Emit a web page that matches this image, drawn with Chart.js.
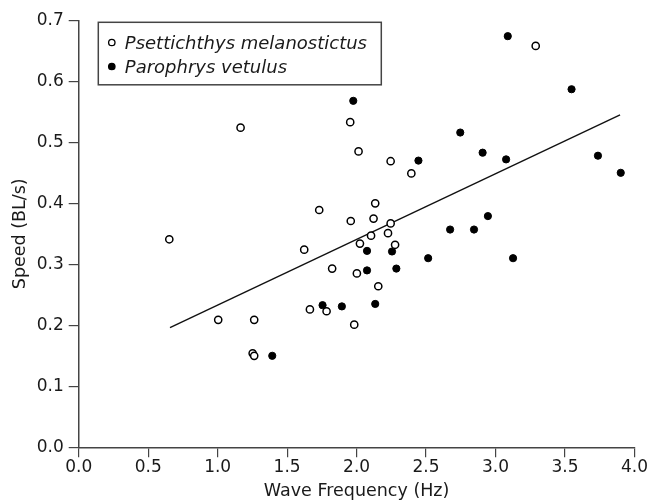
<!DOCTYPE html>
<html>
<head>
<meta charset="utf-8">
<script src="https://cdn.jsdelivr.net/npm/chart.js@4/dist/chart.umd.min.js"></script>
<style>
  html, body { margin: 0; padding: 0; background: #fff; }
  #wrap { width: 651px; height: 502px; }
</style>
</head>
<body>
<div id="wrap"><canvas id="c" width="651" height="502"></canvas></div>
<script>
// ---- data ----
const seriesNames = ['Psettichthys melanostictus', 'Parophrys vetulus'];

const psettFreq  = [0.652, 1.004, 1.165, 1.252, 1.263, 1.263, 1.623, 1.664, 1.731, 1.784, 1.824, 1.954, 1.958, 1.983, 2.002, 2.014, 2.024, 2.104, 2.122, 2.134, 2.156, 2.226, 2.245, 2.245, 2.277, 2.394, 3.289];
const psettSpeed = [0.341, 0.209, 0.524, 0.154, 0.150, 0.209, 0.324, 0.226, 0.389, 0.223, 0.293, 0.533, 0.371, 0.201, 0.285, 0.485, 0.334, 0.347, 0.375, 0.400, 0.264, 0.351, 0.469, 0.367, 0.332, 0.449, 0.658];

const paroFreq  = [1.393, 1.755, 1.894, 1.976, 2.075, 2.075, 2.134, 2.255, 2.286, 2.445, 2.515, 2.673, 2.746, 2.845, 2.907, 2.945, 3.076, 3.088, 3.126, 3.547, 3.737, 3.901];
const paroSpeed = [0.150, 0.233, 0.231, 0.568, 0.322, 0.290, 0.235, 0.321, 0.293, 0.470, 0.310, 0.357, 0.516, 0.357, 0.483, 0.379, 0.472, 0.674, 0.310, 0.587, 0.478, 0.450];

const fitFreq  = [0.657, 3.896];
const fitSpeed = [0.196, 0.545];

const xTickLabels = ['0.0', '0.5', '1.0', '1.5', '2.0', '2.5', '3.0', '3.5', '4.0'];
const yTickLabels = ['0.0', '0.1', '0.2', '0.3', '0.4', '0.5', '0.6', '0.7'];
const xTitle = 'Wave Frequency (Hz)';
const yTitle = 'Speed (BL/s)';

// ---- build ----
const toPts = (xs, ys) => xs.map((x, i) => ({ x: x, y: ys[i] }));
const FONT = 'DejaVu Sans';
const INK = '#1a1a1a';
const AXIS = '#444';

const legendBox = {
  id: 'legendBox',
  afterDraw(chart) {
    const ctx = chart.ctx;
    const a = chart.chartArea;
    const L = a.left + 19.6, T = a.top + 2, W = 283, H = 62.5;
    ctx.save();
    ctx.strokeStyle = '#444';
    ctx.lineWidth = 1.5;
    ctx.fillStyle = '#fff';
    ctx.fillRect(L, T, W, H);
    ctx.strokeRect(L, T, W, H);
    ctx.font = 'italic 18px "' + FONT + '"';
    ctx.textBaseline = 'alphabetic';
    ctx.textAlign = 'left';
    chart.data.datasets.slice(0, 2).forEach((ds, i) => {
      const cy = T + 20.2 + i * 24;
      ctx.beginPath();
      ctx.arc(L + 13.5, cy, 3.2, 0, Math.PI * 2);
      ctx.fillStyle = ds.backgroundColor;
      ctx.fill();
      ctx.lineWidth = 1.3;
      ctx.strokeStyle = '#000';
      ctx.stroke();
      ctx.fillStyle = INK;
      ctx.fillText(ds.label, L + 26.5, cy + 6.5);
    });
    ctx.restore();
  }
};

new Chart(document.getElementById('c'), {
  type: 'scatter',
  data: {
    datasets: [
      {
        label: seriesNames[0],
        data: toPts(psettFreq, psettSpeed),
        backgroundColor: '#ffffff',
        borderColor: '#000000',
        borderWidth: 1.5,
        pointRadius: 3.6,
        pointHoverRadius: 3.6
      },
      {
        label: seriesNames[1],
        data: toPts(paroFreq, paroSpeed),
        backgroundColor: '#000000',
        borderColor: '#000000',
        borderWidth: 1,
        pointRadius: 3.6,
        pointHoverRadius: 3.6
      },
      {
        label: 'fit',
        type: 'line',
        data: toPts(fitFreq, fitSpeed),
        borderColor: '#111',
        borderWidth: 1.4,
        pointRadius: 0,
        fill: false,
        order: 5
      }
    ]
  },
  options: {
    responsive: false,
    animation: false,
    devicePixelRatio: 1,
    layout: { padding: { left: 6, right: 16.5, top: 20.3, bottom: 0 } },
    plugins: {
      legend: { display: false },
      tooltip: { enabled: false }
    },
    scales: {
      x: {
        type: 'linear',
        min: 0, max: 4,
        afterFit(s) { s.height = 54.7; },
        ticks: {
          stepSize: 0.5,
          padding: 0,
          color: INK,
          font: { family: FONT, size: 17 },
          maxRotation: 0,
          callback: (v, i) => xTickLabels[i]
        },
        grid: { drawOnChartArea: false, drawTicks: true, tickLength: 10, color: AXIS, lineWidth: 1.2 },
        border: { display: true, color: AXIS, width: 1.5 },
        title: {
          display: true, text: xTitle, color: INK,
          font: { family: FONT, size: 17.5 },
          padding: { top: 0, bottom: 0 }
        }
      },
      y: {
        type: 'linear',
        min: 0, max: 0.7,
        afterFit(s) { s.width = 72.7; },
        ticks: {
          stepSize: 0.1,
          padding: 5,
          color: INK,
          font: { family: FONT, size: 17 },
          callback: (v, i) => yTickLabels[i]
        },
        grid: { drawOnChartArea: false, drawTicks: true, tickLength: 10, color: AXIS, lineWidth: 1.2 },
        border: { display: true, color: AXIS, width: 1.5 },
        title: {
          display: true, text: yTitle, color: INK,
          font: { family: FONT, size: 17.5 },
          padding: { top: 4, bottom: 4 }
        }
      }
    }
  },
  plugins: [legendBox]
});
</script>
</body>
</html>
